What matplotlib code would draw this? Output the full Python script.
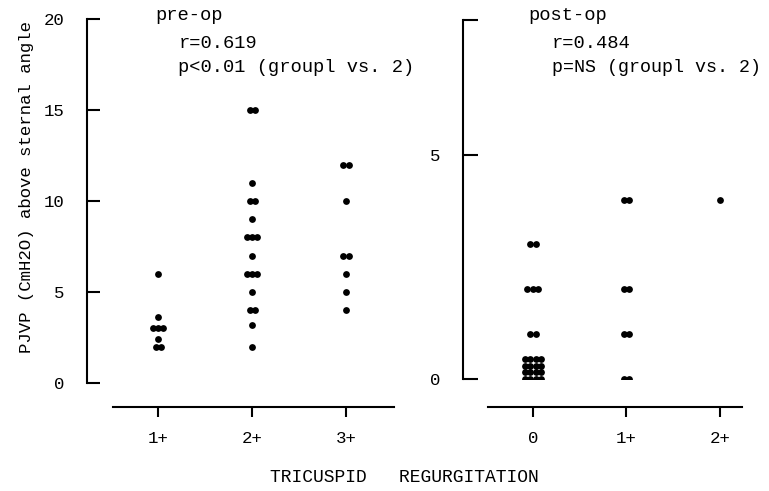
import numpy as np
import matplotlib
matplotlib.use("Agg")
import matplotlib.pyplot as plt

# PJVP values, one list per regurgitation grade
pre_labels = ["1+", "2+", "3+"]
pre_1 = [6, 3.6, 3, 3, 3, 2.4, 2, 2]
pre_2 = [15, 15, 11, 10, 10, 9, 8, 8, 8, 7, 6, 6, 6, 5, 4, 4, 3.2, 2]
pre_3 = [12, 12, 10, 7, 7, 6, 5, 4]

post_labels = ["0", "1+", "2+"]
post_0 = [3, 3, 2, 2, 2, 1, 1,
          0.45, 0.45, 0.45, 0.45, 0.3, 0.3, 0.3, 0.3,
          0.15, 0.15, 0.15, 0.15, 0, 0, 0, 0]
post_1 = [4, 4, 2, 2, 1, 1, 0, 0]
post_2 = [4]

mono = "Liberation Mono"
W, H = 769, 491
px = 72 / 100  # points per pixel at dpi 100


def dodge(vals, step):
    # spread tied values sideways like the hand-plotted dots
    vals = np.asarray(vals, float)
    off = np.zeros(len(vals))
    for v in np.unique(vals):
        idx = np.where(vals == v)[0]
        off[idx] = (np.arange(len(idx)) - (len(idx) - 1) / 2) * step
    return off


def style(ax, left_out, bottom_out, ylen):
    for s in ["top", "right"]:
        ax.spines[s].set_visible(False)
    ax.spines["left"].set_position(("outward", left_out * px))
    ax.spines["bottom"].set_position(("outward", bottom_out * px))
    for s in ["left", "bottom"]:
        ax.spines[s].set_linewidth(1.5)
    ax.tick_params(axis="y", direction="in", length=ylen * px, width=1.5,
                   pad=16, labelsize=12.5)
    ax.tick_params(axis="x", direction="out", length=10 * px, width=1.5,
                   pad=10, labelsize=12.5)
    for lab in ax.get_xticklabels() + ax.get_yticklabels():
        lab.set_fontfamily(mono)


fig = plt.figure(figsize=(W / 100, H / 100), dpi=100)

ax1 = fig.add_axes([113 / W, (H - 383) / H, (394 - 113) / W, (383 - 19) / H])
for i, g in enumerate([pre_1, pre_2, pre_3]):
    x = i + 1 + dodge(g, 0.055)
    ax1.scatter(x, g, s=24, color="black", linewidths=0, zorder=3)
ax1.set_xlim(0.52, 3.51)
ax1.set_ylim(0, 20)
ax1.set_yticks([0, 5, 10, 15, 20])
ax1.set_xticks([1, 2, 3])
ax1.set_xticklabels(pre_labels)
style(ax1, 26, 24, 13)

ax2 = fig.add_axes([488 / W, (H - 379) / H, (742 - 488) / W, (379 - 20) / H])
for i, g in enumerate([post_0, post_1, post_2]):
    x = i + dodge(g, 0.058)
    ax2.scatter(x, g, s=24, color="black", linewidths=0, zorder=3)
ax2.set_xlim(-0.48, 2.235)
ax2.set_ylim(0, 8)
ax2.set_yticks([0, 5, 8])
ax2.set_yticklabels(["0", "5", ""])
ax2.set_xticks([0, 1, 2])
ax2.set_xticklabels(post_labels)
style(ax2, 25, 28, 15)

# annotations
def ftext(x, y, s, **kw):
    fig.text(x / W, 1 - y / H, s, family=mono, va="center", **kw)

ftext(155, 15, "pre-op", fontsize=13.5)
ftext(179, 43, "r=0.619", fontsize=13.5)
ftext(178, 68, "p<0.01 (groupl vs. 2)", fontsize=13.5)
ftext(528, 15, "post-op", fontsize=13.5)
ftext(552, 43, "r=0.484", fontsize=13.5)
ftext(552, 68, "p=NS (groupl vs. 2)", fontsize=13.2)

fig.text(27 / W, 1 - 187 / H, "PJVP (CmH2O) above sternal angle",
         family=mono, fontsize=12.5, rotation=90, ha="center", va="center")
fig.text(404 / W, 1 - 477 / H, "TRICUSPID   REGURGITATION",
         family=mono, fontsize=13, ha="center", va="center")

fig.savefig("out.png", dpi=100)
